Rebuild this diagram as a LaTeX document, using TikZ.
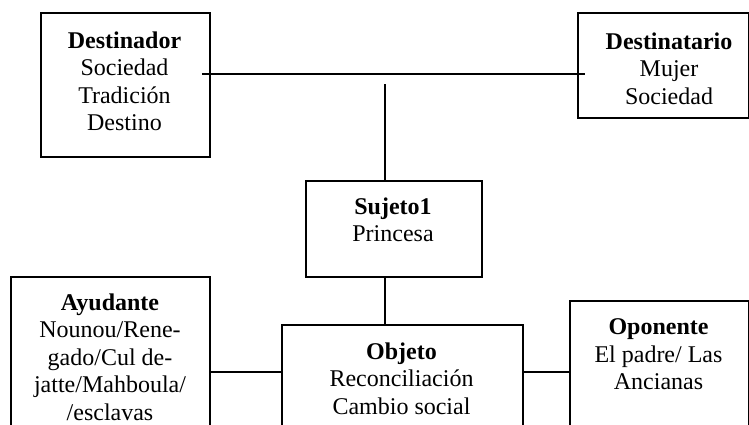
\documentclass[tikz,border=0pt]{standalone}
\usepackage{fontspec}
\setmainfont{Liberation Serif}
\usetikzlibrary{positioning}

\begin{document}
\begin{tikzpicture}[x=0.5pt, y=-0.5pt, line width=0.9pt,
    caja/.style={draw, rectangle, inner sep=0pt, anchor=north west},
    texto/.style={inner sep=0pt, anchor=north, align=center,
                  font=\fontsize{12}{13.7}\selectfont}]
    % marco del dibujo
    \useasboundingbox (0,0) rectangle (749,424);
    \clip (0,0) rectangle (749,424);

    % cajas del esquema actancial
    \node[caja, minimum width=84.5pt, minimum height=72pt] (Dr) at (40,12) {};
    \node[caja, minimum width=85.5pt, minimum height=52.5pt] (Dt) at (577,12) {};
    \node[caja, minimum width=88pt, minimum height=48pt] (S) at (305,180) {};
    \node[caja, minimum width=99.5pt, minimum height=82pt] (Ay) at (10,276) {};
    \node[caja, minimum width=120.5pt, minimum height=58pt] (O) at (281,324) {};
    \node[caja, minimum width=89.5pt, minimum height=70pt] (Op) at (569,300) {}; % abierta por abajo

    % textos
    \node[texto] (tDr) at (124.5,31) {\textbf{Destinador}\\ Sociedad\\ Tradición\\ Destino};
    \node[texto] (tDt) at (669,32) {\textbf{Destinatario}\\ Mujer\\ Sociedad};
    \node[texto] (tS) at (393,197) {\textbf{Sujeto1}\\ Princesa};
    \node[texto] (tAy) at (110,293) {\textbf{Ayudante}\\ Nounou/Rene-\\ gado/Cul de-\\ jatte/Mahboula/\\ /esclavas};
    \node[texto] (tO) at (401.5,342) {\textbf{Objeto}\\ Reconciliación\\ Cambio social};
    \node[texto] (tOp) at (658.5,318) {\textbf{Oponente}\\ El padre/ Las\\ Ancianas};

    % lineas
    \coordinate (X) at (385,84);
    \coordinate (N) at (0,372);
    \draw ([shift={(-9,62)}]Dr.north east) -- ([shift={(8,62)}]Dt.north west); % eje del saber
    \draw (X) -- (X |- S.north);
    \draw (X |- S.south) -- (X |- O.north);
    \draw (Ay.east |- N) -- (O.west |- N);
    \draw (O.east |- N) -- (Op.west |- N);
\end{tikzpicture}
\end{document}
